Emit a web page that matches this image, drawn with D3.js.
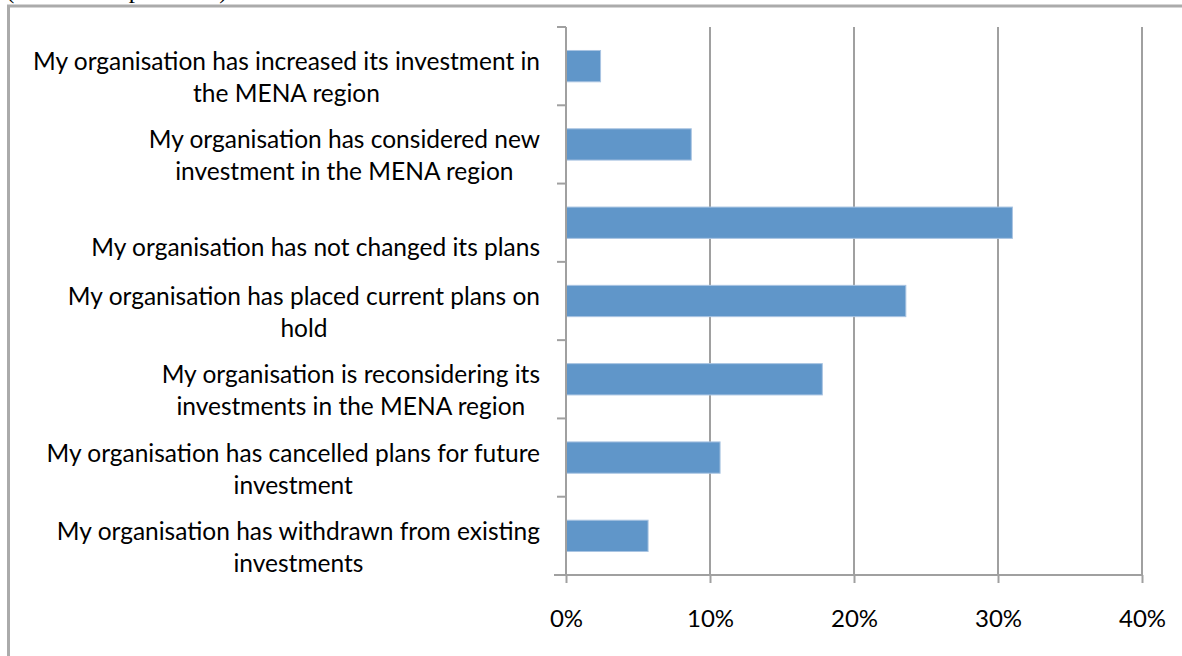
<!DOCTYPE html>
<html>
<head>
<meta charset="utf-8">
<script src="https://cdn.jsdelivr.net/npm/d3@7"></script>
<style>
  body { margin: 0; background: #fff; }
  svg { display: block; }
</style>
</head>
<body>
<script>
// data
var categories = [
  ["My organisation has increased its investment in", "the MENA region"],
  ["My organisation has considered new", "investment in the MENA region"],
  ["My organisation has not changed its plans"],
  ["My organisation has placed current plans on", "hold"],
  ["My organisation is reconsidering its", "investments in the MENA region"],
  ["My organisation has cancelled plans for future", "investment"],
  ["My organisation has withdrawn from existing", "investments"]
];
var values = [0.024, 0.087, 0.310, 0.236, 0.178, 0.107, 0.057];
var xTicks = [0, 0.1, 0.2, 0.3, 0.4];

var W = 1182, H = 656;
var margin = {top: 27, right: 40, bottom: 81, left: 566};
var width = 1142 - margin.left;
var height = H - margin.top - margin.bottom;

var svg = d3.select("body").append("svg")
  .attr("width", W)
  .attr("height", H);

// caption above the frame, cut off by the page top as in the source
svg.append("text")
  .attr("x", 6)
  .attr("y", -2)
  .style("font-family", "'Liberation Serif', 'Times New Roman', serif")
  .style("font-size", "25px")
  .text("(% of all respondents)");

// outer frame
svg.append("rect")
  .attr("x", 8.5)
  .attr("y", 6)
  .attr("width", W + 20)
  .attr("height", H + 20)
  .attr("fill", "none")
  .attr("stroke", "#ababab")
  .attr("stroke-width", 3);

var g = svg.append("g")
  .attr("transform", "translate(" + margin.left + "," + margin.top + ")");

var x = d3.scaleLinear().domain([0, 0.4]).range([0, width]);
var y = d3.scaleBand().domain(d3.range(categories.length)).range([0, height]).padding(0);

// gridlines
g.append("g")
  .selectAll("line")
  .data(xTicks.slice(1))
  .enter().append("line")
  .attr("x1", function(d){ return x(d); })
  .attr("x2", function(d){ return x(d); })
  .attr("y1", 0)
  .attr("y2", height)
  .attr("stroke", "#a0a0a0")
  .attr("stroke-width", 2);

// bars
var barH = y.bandwidth() * 0.4;
g.selectAll(".bar")
  .data(values)
  .enter().append("rect")
  .attr("class", "bar")
  .attr("x", 0)
  .attr("y", function(d, i){ return y(i) + y.bandwidth() / 2 - barH / 2; })
  .attr("width", function(d){ return x(d); })
  .attr("height", barH)
  .attr("fill", "#6096c9")
  .attr("stroke", "#a9c4e2")
  .attr("stroke-width", 1);

// x axis
var xAxis = g.append("g")
  .attr("transform", "translate(0," + height + ")")
  .call(d3.axisBottom(x).tickValues(xTicks).tickFormat(d3.format(".0%")).tickSize(8).tickPadding(27));
xAxis.select(".domain").attr("stroke", "#a0a0a0").attr("stroke-width", 2)
  .attr("d", "M-12,0H" + width);
xAxis.selectAll(".tick line").attr("stroke", "#a0a0a0").attr("stroke-width", 2);
xAxis.selectAll("text")
  .style("font-family", "Lato, 'Open Sans', sans-serif")
  .style("font-size", "24px")
  .attr("fill", "#000");

// y axis line and category ticks (at band edges)
g.append("line")
  .attr("x1", 0).attr("x2", 0)
  .attr("y1", 0).attr("y2", height)
  .attr("stroke", "#a0a0a0")
  .attr("stroke-width", 2);

var edges = d3.range(categories.length).map(function(i){ return y(i); }).concat([height]);
g.append("g")
  .selectAll("line")
  .data(edges)
  .enter().append("line")
  .attr("x1", -9).attr("x2", 0)
  .attr("y1", function(d){ return d; })
  .attr("y2", function(d){ return d; })
  .attr("stroke", "#a0a0a0")
  .attr("stroke-width", 2);

// category labels
var labels = g.append("g")
  .selectAll("text")
  .data(categories)
  .enter().append("text")
  .attr("text-anchor", "middle")
  .style("font-family", "Lato, 'Open Sans', sans-serif")
  .style("font-size", "24.5px")
  .attr("fill", "#000")
  .attr("transform", function(d, i){
    var c = y(i) + y.bandwidth() / 2;
    return "translate(0," + (d.length > 1 ? c + 4 : c + 33) + ")";
  });

labels.each(function(d){
  var t = d3.select(this);
  d.forEach(function(line, j){
    t.append("tspan").attr("x", 0).attr("y", j * 32).text(line);
  });
  // centre the lines inside a right-aligned block
  var wMax = 0;
  t.selectAll("tspan").each(function(){ wMax = Math.max(wMax, this.getComputedTextLength()); });
  t.selectAll("tspan").attr("x", -26 - wMax / 2);
});
</script>
</body>
</html>
